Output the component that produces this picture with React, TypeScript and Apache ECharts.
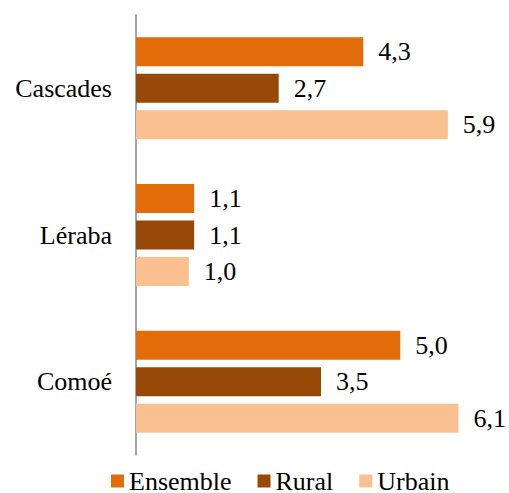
import React, { useEffect, useRef } from "react";
import * as echarts from "echarts";

const categories = ["Cascades", "Léraba", "Comoé"];
const ensemble = [4.3, 1.1, 5.0];
const rural = [2.7, 1.1, 3.5];
const urbain = [5.9, 1.0, 6.1];
const seriesNames = ["Ensemble", "Rural", "Urbain"];
const colors = ["#E36C0A", "#984807", "#FAC090"];

const FONT = "serif";
const FS = 26;

export default function App() {
  const ref = useRef<HTMLDivElement>(null);
  useEffect(() => {
    if (!ref.current) return;
    const chart = echarts.init(ref.current, undefined, { renderer: "svg" });
    const data = [ensemble, rural, urbain];
    chart.setOption({
      animation: false,
      grid: { left: 136, right: 3, top: 15, bottom: 38, containLabel: false },
      legend: {
        data: seriesNames,
        left: 111,
        top: 468,
        padding: 0,
        itemWidth: 13,
        itemHeight: 13,
        itemGap: 26,
        icon: "rect",
        textStyle: { fontFamily: FONT, fontSize: FS, color: "#000", lineHeight: 25 },
      },
      xAxis: { type: "value", min: 0, max: 7, show: false },
      yAxis: {
        type: "category",
        data: categories,
        inverse: true,
        axisLine: { show: true, lineStyle: { color: "#888", width: 1.5 } },
        axisTick: { show: false },
        axisLabel: { fontFamily: FONT, fontSize: FS, color: "#000", margin: 24 },
      },
      series: seriesNames.map((name, i) => ({
        name,
        type: "bar",
        data: data[i],
        barWidth: 29,
        barGap: "26%",
        itemStyle: { color: colors[i] },
        label: {
          show: true,
          position: "right",
          distance: 15,
          fontFamily: FONT,
          fontSize: FS,
          color: "#000",
          formatter: (p: any) => p.value.toFixed(1).replace(".", ","),
        },
      })),
    });
    return () => chart.dispose();
  }, []);
  return (
    <div
      ref={ref}
      style={{ position: "fixed", left: 0, top: 0, width: 509, height: 493, background: "#fff" }}
    />
  );
}
